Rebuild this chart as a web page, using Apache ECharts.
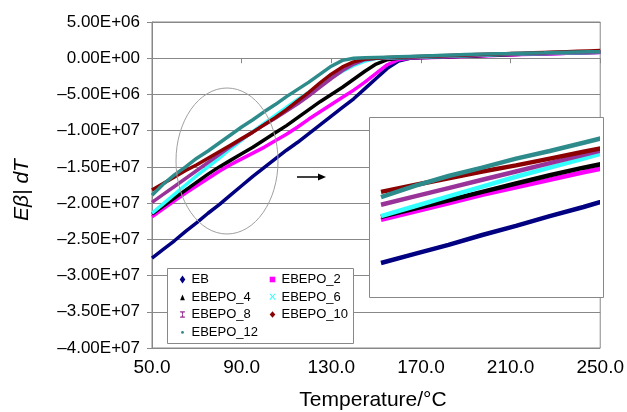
<!DOCTYPE html>
<html><head><meta charset="utf-8">
<script src="https://cdn.jsdelivr.net/npm/echarts@6/dist/echarts.min.js"></script>
<style>html,body{margin:0;padding:0;background:#fff}#c{width:627px;height:412px}</style>
</head><body><div id="c"></div>
<script>
// ---- data ----
const temps = [50,55,60,65,70,75,80,85,90,95,100,105,110,115,120,125,130,135,140,145,150,155,160,165,170,175,180,185,190,195,200,205,210,215,220,225,230,235,240,245,250];
const ebVals = [-2.76e7,-2.64e7,-2.52e7,-2.39e7,-2.27e7,-2.14e7,-2.02e7,-1.89e7,-1.76e7,-1.63e7,-1.51e7,-1.39e7,-1.27e7,-1.16e7,-1.04e7,-9.2e6,-8.0e6,-6.8e6,-5.6e6,-4.2e6,-2.8e6,-1.4e6,-4e5,0,1e5,1.5e5,2e5,2.5e5,3e5,3.5e5,4e5,4.5e5,5e5,5.5e5,6e5,6.2e5,6.6e5,7e5,7.4e5,7.8e5,8.2e5];
const ebepo2Vals = [-2.19e7,-2.08e7,-1.97e7,-1.86e7,-1.76e7,-1.66e7,-1.56e7,-1.47e7,-1.39e7,-1.31e7,-1.23e7,-1.14e7,-1.05e7,-9.5e6,-8.4e6,-7.4e6,-6.4e6,-5.4e6,-4.4e6,-3.3e6,-2.1e6,-9e5,-2e5,0,5e4,1e5,1.5e5,2e5,2.5e5,3e5,3.5e5,4e5,4.5e5,5e5,5.5e5,6e5,6.3e5,6.7e5,7.1e5,7.5e5,8e5];
const ebepo4Vals = [-2.15e7,-2.04e7,-1.93e7,-1.82e7,-1.71e7,-1.60e7,-1.50e7,-1.41e7,-1.32e7,-1.23e7,-1.13e7,-1.03e7,-9.3e6,-8.2e6,-7.1e6,-6.0e6,-5.0e6,-4.0e6,-2.9e6,-1.8e6,-8e5,-2e5,0,5e4,1e5,1.5e5,2e5,2.5e5,3e5,3.5e5,4e5,4.5e5,5e5,5.5e5,6e5,6.4e5,6.8e5,7.2e5,7.6e5,8e5,8.4e5];
const ebepo6Vals = [-2.14e7,-2.01e7,-1.88e7,-1.75e7,-1.62e7,-1.50e7,-1.38e7,-1.25e7,-1.13e7,-1.01e7,-9.0e6,-7.9e6,-6.8e6,-5.7e6,-4.7e6,-3.7e6,-2.7e6,-1.8e6,-1.0e6,-4e5,-5e4,0,5e4,1e5,1.5e5,2e5,2.5e5,3e5,3.5e5,4e5,4.5e5,5e5,5.5e5,6e5,6.3e5,6.6e5,7e5,7.3e5,7.6e5,8e5,8.3e5];
const ebepo8Vals = [-1.99e7,-1.88e7,-1.77e7,-1.66e7,-1.55e7,-1.44e7,-1.33e7,-1.22e7,-1.12e7,-1.02e7,-9.2e6,-8.3e6,-7.3e6,-6.3e6,-5.2e6,-4.0e6,-2.8e6,-1.7e6,-8e5,-2e5,0,5e4,1e5,1.5e5,2e5,2.5e5,3e5,3.5e5,4e5,4.5e5,5e5,5.5e5,6e5,6.3e5,6.6e5,7e5,7.3e5,7.6e5,8e5,8.3e5,8.6e5];
const ebepo10Vals = [-1.82e7,-1.73e7,-1.64e7,-1.55e7,-1.47e7,-1.38e7,-1.29e7,-1.20e7,-1.11e7,-1.02e7,-9.2e6,-8.2e6,-7.1e6,-5.9e6,-4.7e6,-3.4e6,-2.2e6,-1.2e6,-5e5,-1e5,0,1e5,1.5e5,2e5,2.5e5,3e5,3.5e5,4e5,4.5e5,5e5,5.5e5,6e5,6.5e5,7e5,7.5e5,8e5,8.5e5,9e5,9.5e5,1.0e6,1.05e6];
const ebepo12Vals = [-1.89e7,-1.74e7,-1.61e7,-1.50e7,-1.38e7,-1.28e7,-1.17e7,-1.06e7,-9.5e6,-8.5e6,-7.4e6,-6.4e6,-5.3e6,-4.3e6,-3.3e6,-2.2e6,-1.1e6,-3e5,0,5e4,1e5,1.5e5,2e5,2.5e5,3e5,3.5e5,4e5,4.5e5,5e5,5.5e5,6e5,6.3e5,6.6e5,7e5,7.3e5,7.6e5,8e5,8.3e5,8.6e5,8.8e5,9e5];
const seriesNames = ['EB','EBEPO_2','EBEPO_4','EBEPO_6','EBEPO_8','EBEPO_10','EBEPO_12'];
const xTickLabels = ['50.0','90.0','130.0','170.0','210.0','250.0'];
const yTickLabels = ['\u20134.00E+07','\u20133.50E+07','\u20133.00E+07','\u20132.50E+07','\u20132.00E+07','\u20131.50E+07','\u20131.00E+07','\u20135.00E+06','0.00E+00','5.00E+06'];

// ---- styles ----
const FONT = 'Liberation Sans';
const styles = {
  'EB':       {color:'#000080', icon:'path://M0,0M10,10M5,0L8.5,5L5,10L1.5,5Z'},
  'EBEPO_2':  {color:'#ff00ff', icon:'path://M0,0M10,10M1.5,1.5H8.5V8.5H1.5Z'},
  'EBEPO_4':  {color:'#000000', icon:'path://M0,0M10,10M5,2L8,9H2Z'},
  'EBEPO_6':  {color:'#33ffff', icon:'path://M0,0M10,10M1,1L2.6,1L5,3.6L7.4,1L9,1L6,4.5L9,8.5L7.4,8.5L5,5.4L2.6,8.5L1,8.5L4,4.5Z'},
  'EBEPO_8':  {color:'#993399', icon:'path://M0,0M10,10M2,1H8V2.5H6L5.4,5L6,7.5H8V9H2V7.5H4L4.6,5L4,2.5H2Z'},
  'EBEPO_10': {color:'#8b0000', icon:'path://M0,0M10,10M5,1L8.5,5L5,9L1.5,5Z'},
  'EBEPO_12': {color:'#2e8b8b', icon:'path://M0,0M10,10M3.2,5.5A1.8,1.8 0 1,0 6.8,5.5A1.8,1.8 0 1,0 3.2,5.5Z'}
};
const valueArrays = [ebVals, ebepo2Vals, ebepo4Vals, ebepo6Vals, ebepo8Vals, ebepo10Vals, ebepo12Vals];

const series = [];
seriesNames.forEach((n, i) => {
  const data = temps.map((t, k) => [t, valueArrays[i][k]]);
  const c = styles[n].color;
  series.push({name:n, type:'line', xAxisIndex:0, yAxisIndex:0, data, showSymbol:false, symbol:styles[n].icon,
    itemStyle:{color:c}, lineStyle:{color:c, width:3.5}, z:2});
  series.push({name:n, type:'line', xAxisIndex:1, yAxisIndex:1, data, showSymbol:false, symbol:styles[n].icon,
    itemStyle:{color:c}, lineStyle:{color:c, width:4.5}, z:3});
});

const legendCommon = {orient:'vertical', itemWidth:8, itemHeight:8, itemGap:4.5, selectedMode:false, padding:0,
  textStyle:{fontFamily:FONT, fontSize:13, color:'#000', lineHeight:13}};

const chart = echarts.init(document.getElementById('c'));
chart.setOption({
  animation:false,
  backgroundColor:'#fff',
  grid:[
    {left:152, top:22, width:458, height:326, show:true, borderColor:'#888', borderWidth:1, backgroundColor:'transparent'},
    {left:381, top:117, width:216, height:180, show:false}
  ],
  xAxis:[
    {gridIndex:0, type:'value', min:50, max:250, interval:40,
     axisLine:{lineStyle:{color:'#888'}}, axisTick:{show:true, length:5, lineStyle:{color:'#888'}},
     splitLine:{show:false},
     axisLabel:{margin:10, fontFamily:FONT, fontSize:19, color:'#000',
       formatter:v => xTickLabels[Math.round((v-50)/40)]}},
    {gridIndex:1, type:'value', min:50, max:82, show:false}
  ],
  yAxis:[
    {gridIndex:0, type:'value', min:-4e7, max:5e6, interval:5e6,
     axisLine:{show:true, lineStyle:{color:'#888'}}, axisTick:{show:true, length:5, lineStyle:{color:'#888'}},
     splitLine:{show:true, lineStyle:{color:'#888', width:1}},
     axisLabel:{margin:12, fontFamily:FONT, fontSize:17, color:'#000',
       formatter:v => yTickLabels[Math.round((v+4e7)/5e6)]}},
    {gridIndex:1, type:'value', min:-3.21e7, max:-8.3e6, show:false}
  ],
  legend:[
    Object.assign({left:178.5, top:273, data:['EB','EBEPO_4','EBEPO_8','EBEPO_12'].map(n=>({name:n, icon:styles[n].icon}))}, legendCommon),
    Object.assign({left:268.5, top:273, data:['EBEPO_2','EBEPO_6','EBEPO_10'].map(n=>({name:n, icon:styles[n].icon}))}, legendCommon)
  ],
  graphic:[
    {type:'rect', z:1, shape:{x:369.5, y:117.5, width:234, height:180}, style:{fill:'#fff', stroke:'#888', lineWidth:1}},
    {type:'rect', z:3, shape:{x:167.5, y:268.5, width:186, height:75}, style:{fill:'#fff', stroke:'#888', lineWidth:1}},
    {type:'ellipse', z:6, shape:{cx:227, cy:161, rx:51, ry:73}, style:{fill:null, stroke:'#a0a0a0', lineWidth:1}},
    {type:'line', z:6, shape:{x1:297, y1:177, x2:320, y2:177}, style:{stroke:'#000', lineWidth:1.5}},
    {type:'polygon', z:6, shape:{points:[[326,177],[318,173.5],[318,180.5]]}, style:{fill:'#000'}},
    {type:'text', z:6, x:22, y:190, rotation:Math.PI/2,
     style:{text:'E\u03b2| dT', fill:'#000', font:'italic 21px "Liberation Sans"', textAlign:'center', textVerticalAlign:'middle'}},
    {type:'text', z:6, x:373, y:400,
     style:{text:'Temperature/\u00b0C', fill:'#000', font:'21px "Liberation Sans"', textAlign:'center', textVerticalAlign:'middle'}}
  ],
  series
});
</script></body></html>
